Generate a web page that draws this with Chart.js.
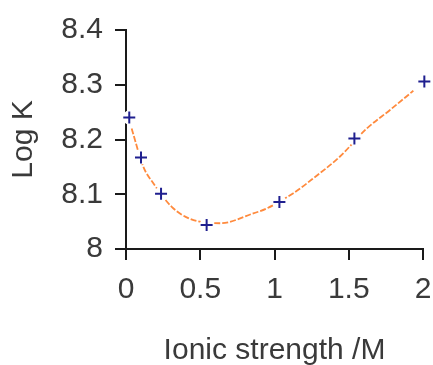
<!DOCTYPE html>
<html>
<head>
<meta charset="utf-8">
<script src="https://cdn.jsdelivr.net/npm/chart.js@4/dist/chart.umd.min.js"></script>
<style>
  html, body { margin: 0; padding: 0; background: #fff; }
  #wrap { width: 433px; height: 365px; }
</style>
</head>
<body>
<div id="wrap"><canvas id="c" width="433" height="365"></canvas></div>
<script>
// measured points
const ionicStrength = [0.022, 0.101, 0.236, 0.543, 1.033, 1.538, 2.009]
const logK = [8.240, 8.167, 8.101, 8.044, 8.086, 8.202, 8.306]

// fitted curve
const fitX = [0.038, 0.117, 0.184, 0.308, 0.431, 0.633, 0.857, 0.947, 1.127, 1.261, 1.441, 1.621, 1.778, 1.935]
const fitY = [8.220, 8.150, 8.120, 8.077, 8.055, 8.047, 8.065, 8.074, 8.102, 8.129, 8.169, 8.220, 8.254, 8.289]

const xTicks = [0, 0.5, 1, 1.5, 2]
const yTicks = [8, 8.1, 8.2, 8.3, 8.4]

const textColor = '#3a3a3a'
const axisColor = '#1a1a1a'
const font = { family: 'Liberation Sans, Arial, sans-serif', size: 30 }

const pts = ionicStrength.map(function(x, i) { return { x: x, y: logK[i] } })
const fit = fitX.map(function(x, i) { return { x: x, y: fitY[i] } })

new Chart(document.getElementById('c'), {
  type: 'scatter',
  data: {
    datasets: [
      {
        data: pts,
        pointStyle: 'cross',
        pointRadius: 6,
        pointBorderWidth: 2,
        pointBorderColor: '#1f1f8f',
        pointBackgroundColor: '#1f1f8f',
        showLine: false,
        clip: false,
        order: 0
      },
      {
        // white halo under the markers, breaks the curve like the original
        data: pts,
        pointStyle: 'circle',
        pointRadius: 7,
        pointBorderWidth: 0,
        pointBackgroundColor: '#fff',
        showLine: false,
        clip: false,
        order: 1
      },
      {
        data: fit,
        showLine: true,
        pointRadius: 0,
        borderColor: '#ff8a3d',
        borderWidth: 1.8,
        borderDash: [6, 2],
        cubicInterpolationMode: 'monotone',
        order: 2
      }
    ]
  },
  options: {
    responsive: false,
    animation: false,
    layout: { padding: { top: 30, right: 0, left: 0, bottom: 0 } },
    plugins: { legend: { display: false }, tooltip: { enabled: false } },
    scales: {
      x: {
        type: 'linear',
        min: 0,
        max: 2,
        afterBuildTicks: function(s) { s.ticks = xTicks.map(function(v) { return { value: v } }) },
        afterFit: function(s) { s.height = 116; s.paddingRight = 10; s.paddingLeft = 0 },
        border: { color: axisColor, width: 2 },
        grid: { drawOnChartArea: false, drawTicks: true, tickLength: 11, color: axisColor, lineWidth: 2 },
        ticks: {
          color: textColor, font: font, padding: 12, maxRotation: 0,
          callback: function(v) { return String(+v.toFixed(2)) }
        },
        title: { display: true, text: 'Ionic strength /M', color: textColor, font: font, padding: { top: 0, bottom: -4 } }
      },
      y: {
        type: 'linear',
        min: 8,
        max: 8.4,
        afterBuildTicks: function(s) { s.ticks = yTicks.map(function(v) { return { value: v } }) },
        afterFit: function(s) { s.width = 126 },
        border: { color: axisColor, width: 2 },
        grid: { drawOnChartArea: false, drawTicks: true, tickLength: 11, color: axisColor, lineWidth: 2 },
        ticks: {
          color: textColor, font: font, padding: 12,
          callback: function(v) { return String(+v.toFixed(2)) }
        },
        title: { display: true, text: 'Log K', color: textColor, font: font, padding: { top: 6, bottom: 0 } }
      }
    }
  }
})
</script>
</body>
</html>
